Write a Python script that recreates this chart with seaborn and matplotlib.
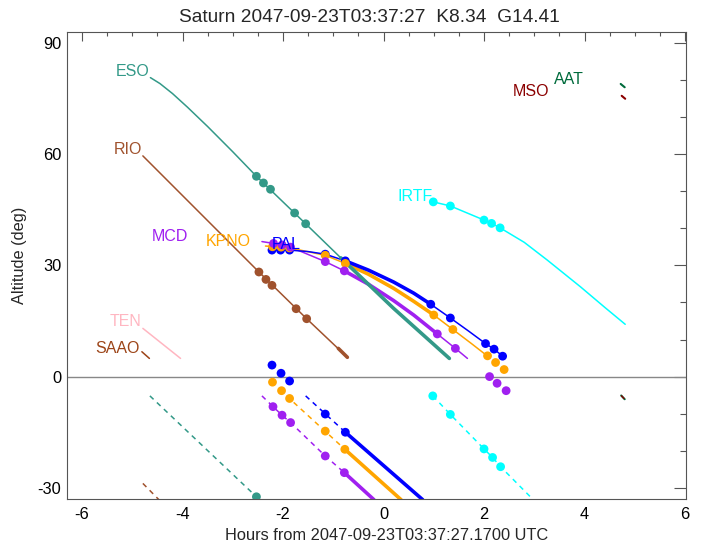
import numpy as np
import pandas as pd
import matplotlib
matplotlib.use("Agg")
import matplotlib.pyplot as plt
import seaborn as sns

# ---------------- data ----------------
title_text = "Saturn 2047-09-23T03:37:27  K8.34  G14.41"
xlabel_text = "Hours from 2047-09-23T03:37:27.1700 UTC"
ylabel_text = "Altitude (deg)"

x_major = [-6, -4, -2, 0, 2, 4, 6]
y_major = [-30, 0, 30, 60, 90]

# ESO
eso_t = [-4.64, -4.45, -4.2, -3.9, -3.5, -3.0, -2.53, -1.55, -0.85, 0.2, 1.31]
eso_alt = [80.6, 79.0, 76.3, 72.6, 67.4, 60.6, 54.0, 41.2, 32.0, 18.4, 4.9]
eso_thick_t = [-0.85, 0.2, 1.31]
eso_thick_alt = [32.0, 18.4, 4.9]
eso_dot_t = [-2.53, -2.39, -2.25, -1.77, -1.55]
eso_dot_alt = [54.0, 52.2, 50.5, 44.1, 41.2]
eso_sun_t = [-4.65, -2.53]
eso_sun_alt = [-5.2, -32.4]
eso_sundot_t = [-2.53]
eso_sundot_alt = [-32.4]

# RIO
rio_t = [-4.79, -2.48, -1.53, -0.72]
rio_alt = [59.5, 28.2, 15.6, 5.2]
rio_thick_t = [-0.9, -0.72]
rio_thick_alt = [7.6, 5.2]
rio_dot_t = [-2.48, -2.34, -2.22, -1.74, -1.53]
rio_dot_alt = [28.2, 26.2, 24.6, 18.3, 15.6]
rio_sun_t = [-4.79, -4.47]
rio_sun_alt = [-28.8, -33.2]

# TEN, SAAO
ten_t = [-4.79, -4.04]
ten_alt = [13.0, 4.9]
saao_t = [-4.81, -4.66]
saao_alt = [6.7, 4.9]

# PAL (blue)
pal_t = [-2.22, -1.87, -1.5, -1.16, -0.76, -0.3, 0.2, 0.6, 0.94, 1.33, 1.7, 2.03, 2.2, 2.37]
pal_alt = [34.1, 34.1, 33.7, 33.0, 31.2, 28.7, 25.5, 22.5, 19.5, 15.8, 12.2, 8.9, 7.4, 5.5]
pal_thick_t = [-0.76, -0.3, 0.2, 0.6, 0.94]
pal_thick_alt = [31.2, 28.7, 25.5, 22.5, 19.5]
pal_dot_t = [-2.22, -2.05, -1.87, -1.16, -0.76, 0.94, 1.33, 2.03, 2.20, 2.37]
pal_dot_alt = [34.1, 34.1, 34.1, 33.0, 31.2, 19.5, 15.8, 8.9, 7.4, 5.5]
pal_sun_t = [-1.55, -0.76]
pal_sun_alt = [-5.2, -15.0]
pal_sunthick_t = [-0.76, 0.78]
pal_sunthick_alt = [-15.0, -33.2]
pal_sundot_t = [-2.22, -2.04, -1.87, -1.16, -0.76]
pal_sundot_alt = [3.1, 0.9, -1.2, -10.1, -15.0]

# KPNO (orange)
kpno_t = [-2.35, -2.04, -1.87, -1.16, -0.76, -0.3, 0.2, 0.6, 1.0, 1.38, 1.75, 2.10]
kpno_alt = [35.2, 34.9, 34.7, 32.7, 30.5, 27.6, 23.8, 20.3, 16.6, 12.7, 8.9, 5.2]
kpno_thick_t = [-0.76, -0.3, 0.2, 0.6, 1.0]
kpno_thick_alt = [30.5, 27.6, 23.8, 20.3, 16.6]
kpno_dot_t = [-2.21, -2.04, -1.87, -1.16, -0.76, 1.0, 1.38, 2.07, 2.23, 2.40]
kpno_dot_alt = [35.0, 34.9, 34.7, 32.7, 30.5, 16.6, 12.7, 5.6, 3.8, 1.9]
kpno_sun_t = [-1.93, -0.77]
kpno_sun_alt = [-5.2, -19.6]
kpno_sunthick_t = [-0.77, 0.35]
kpno_sunthick_alt = [-19.6, -33.2]
kpno_sundot_t = [-2.21, -2.03, -1.87, -1.16, -0.77]
kpno_sundot_alt = [-1.5, -3.8, -5.9, -14.7, -19.6]

# MCD (purple)
mcd_t = [-2.42, -2.19, -2.02, -1.85, -1.16, -0.78, -0.3, 0.2, 0.6, 1.07, 1.43, 1.67]
mcd_alt = [36.4, 35.9, 35.5, 34.9, 31.0, 28.5, 24.9, 20.5, 16.6, 11.5, 7.6, 4.9]
mcd_thick_t = [-0.78, -0.3, 0.2, 0.6, 1.07]
mcd_thick_alt = [28.5, 24.9, 20.5, 16.6, 11.5]
mcd_dot_t = [-2.19, -2.02, -1.85, -1.16, -0.78, 1.07, 1.43, 2.11, 2.26, 2.44]
mcd_dot_alt = [35.9, 35.5, 34.9, 31.0, 28.5, 11.5, 7.6, 0.0, -1.8, -3.8]
mcd_sun_t = [-2.42, -2.20, -2.02, -1.85, -1.16, -0.78]
mcd_sun_alt = [-5.2, -8.1, -10.4, -12.4, -21.4, -25.9]
mcd_sunthick_t = [-0.78, -0.19]
mcd_sunthick_alt = [-25.9, -33.2]
mcd_sundot_t = [-2.20, -2.02, -1.85, -1.16, -0.78]
mcd_sundot_alt = [-8.1, -10.4, -12.4, -21.4, -25.9]

# IRTF (cyan)
irtf_t = [0.99, 1.33, 2.0, 2.15, 2.32, 2.8, 3.26, 3.92, 4.4, 4.81]
irtf_alt = [47.1, 46.0, 42.2, 41.3, 40.1, 36.2, 31.4, 24.2, 18.7, 14.1]
irtf_dot_t = [0.99, 1.33, 2.0, 2.15, 2.32]
irtf_dot_alt = [47.1, 46.0, 42.2, 41.3, 40.1]
irtf_sun_t = [0.98, 1.33, 2.0, 2.17, 2.33, 2.98]
irtf_sun_alt = [-5.2, -10.2, -19.5, -21.8, -24.3, -33.2]
irtf_sundot_t = [0.98, 1.33, 2.0, 2.17, 2.33]
irtf_sundot_alt = [-5.2, -10.2, -19.5, -21.8, -24.3]

# AAT, MSO (tiny segments)
aat_t = [4.72, 4.80]
aat_alt = [78.9, 78.0]
mso_t = [4.74, 4.81]
mso_alt = [75.7, 74.9]
low_t = [4.73, 4.80]
low_alt = [-5.1, -6.1]

# site labels: name, right-edge time, altitude
label_names = ["ESO", "RIO", "MCD", "KPNO", "PAL", "TEN", "SAAO", "IRTF", "MSO", "AAT"]
label_t = [-4.65, -4.81, -3.88, -2.65, -1.65, -4.81, -4.85, 0.97, 3.30, 3.99]
label_alt = [82.2, 61.1, 37.9, 36.5, 35.5, 14.8, 7.6, 48.5, 76.8, 80.1]

# ---------------- style ----------------
C_ESO = "#339988"
C_RIO = "#A0522D"
C_SAAO = "#9C4418"
C_TEN = "#FFB6C1"
C_PAL = "#0000FF"
C_KPNO = "#FFA500"
C_MCD = "#A020F0"
C_IRTF = "#00FFFF"
C_MSO = "#8B0000"
C_AAT = "#006B3C"
label_colors = [C_ESO, C_RIO, C_MCD, C_KPNO, C_PAL, C_TEN, C_SAAO, C_IRTF, C_MSO, C_AAT]

sns.set_theme(style="white")
plt.rcParams["font.family"] = ["Liberation Sans", "DejaVu Sans"]

fig = plt.figure(figsize=(7.08, 5.44), dpi=100)
ax = fig.add_axes([67 / 708, 45 / 544, 619 / 708, 467 / 544])

THIN = 1.1
THICK = 2.6
DASH = (0, (3.3, 3.0))
DOT_S = 40


def line(t, a, c, lw=THIN, ls="-", z=2):
    sns.lineplot(x=t, y=a, color=c, lw=lw, linestyle=ls, sort=False,
                 estimator=None, ax=ax, zorder=z)


def dots(t, a, c, z=4):
    sns.scatterplot(x=t, y=a, color=c, s=DOT_S, edgecolor="none",
                    linewidth=0, ax=ax, zorder=z)


ax.axhline(0, color="#888888", lw=1.0, zorder=1)

# sun (dashed) lines
line(eso_sun_t, eso_sun_alt, C_ESO, ls=DASH)
line(rio_sun_t, rio_sun_alt, C_RIO, ls=DASH)
line(pal_sun_t, pal_sun_alt, C_PAL, ls=DASH)
line(pal_sunthick_t, pal_sunthick_alt, C_PAL, lw=THICK)
line(kpno_sun_t, kpno_sun_alt, C_KPNO, ls=DASH)
line(kpno_sunthick_t, kpno_sunthick_alt, C_KPNO, lw=THICK)
line(mcd_sun_t, mcd_sun_alt, C_MCD, ls=DASH)
line(mcd_sunthick_t, mcd_sunthick_alt, C_MCD, lw=THICK)
line(irtf_sun_t, irtf_sun_alt, C_IRTF, ls=DASH)
line(low_t, low_alt, C_AAT, lw=1.5)
line(low_t, low_alt, C_MSO, lw=1.0, ls=DASH)

# altitude curves
line(ten_t, ten_alt, C_TEN)
line(saao_t, saao_alt, C_SAAO)
line(rio_t, rio_alt, C_RIO)
line(rio_thick_t, rio_thick_alt, C_RIO, lw=THICK)
line(irtf_t, irtf_alt, C_IRTF)
line(mcd_t, mcd_alt, C_MCD)
line(mcd_thick_t, mcd_thick_alt, C_MCD, lw=THICK)
line(kpno_t, kpno_alt, C_KPNO)
line(kpno_thick_t, kpno_thick_alt, C_KPNO, lw=THICK)
line(pal_t, pal_alt, C_PAL)
line(pal_thick_t, pal_thick_alt, C_PAL, lw=THICK)
line(eso_t, eso_alt, C_ESO, z=3)
line(eso_thick_t, eso_thick_alt, C_ESO, lw=THICK, z=3)
line(aat_t, aat_alt, C_AAT, lw=1.5)
line(mso_t, mso_alt, C_MSO, lw=1.5)

# dots
dots(eso_dot_t, eso_dot_alt, C_ESO)
dots(eso_sundot_t, eso_sundot_alt, C_ESO)
dots(rio_dot_t, rio_dot_alt, C_RIO)
dots(pal_dot_t, pal_dot_alt, C_PAL)
dots(pal_sundot_t, pal_sundot_alt, C_PAL)
dots(kpno_dot_t, kpno_dot_alt, C_KPNO)
dots(kpno_sundot_t, kpno_sundot_alt, C_KPNO)
dots(mcd_dot_t, mcd_dot_alt, C_MCD)
dots(mcd_sundot_t, mcd_sundot_alt, C_MCD)
dots(irtf_dot_t, irtf_dot_alt, C_IRTF)
dots(irtf_sundot_t, irtf_sundot_alt, C_IRTF)

for name, t, a, c in zip(label_names, label_t, label_alt, label_colors):
    ax.text(t, a, name, color=c, ha="right", va="center", fontsize=11.5, zorder=5)

# axes
ax.set_xlim(-6.3, 6.02)
ax.set_ylim(-33.0, 92.9)
ax.set_xticks(x_major)
ax.set_xticks(np.arange(-6, 6.01, 0.5), minor=True)
ax.set_yticks(y_major)
ax.set_yticks(np.arange(-30, 91, 10), minor=True)
ax.set_xticklabels([str(v) for v in x_major])
ax.set_yticklabels([str(v) for v in y_major])
ax.tick_params(axis="both", which="both", direction="in", top=True, right=True,
               colors="#555555", labelcolor="black", labelsize=11.8, width=0.8)
ax.tick_params(axis="x", which="major", length=6.5, pad=6)
ax.tick_params(axis="x", which="minor", length=3.2)
ax.tick_params(axis="y", which="major", length=9, pad=4)
ax.tick_params(axis="y", which="minor", length=4.3)
for sp in ax.spines.values():
    sp.set_color("#555555")
    sp.set_linewidth(0.8)
ax.set_xlabel("")
ax.set_ylabel("")
ax.grid(False)

fig.text(369.5 / 708, 1 - 17 / 544, title_text, ha="center", va="center", fontsize=13.8)
fig.text(386.5 / 708, 1 - 535 / 544, xlabel_text, ha="center", va="center", fontsize=11.8)
fig.text(20 / 708, 1 - 255 / 544, ylabel_text, ha="center", va="center",
         rotation=90, fontsize=11.8)

fig.savefig("out.png", dpi=100)
